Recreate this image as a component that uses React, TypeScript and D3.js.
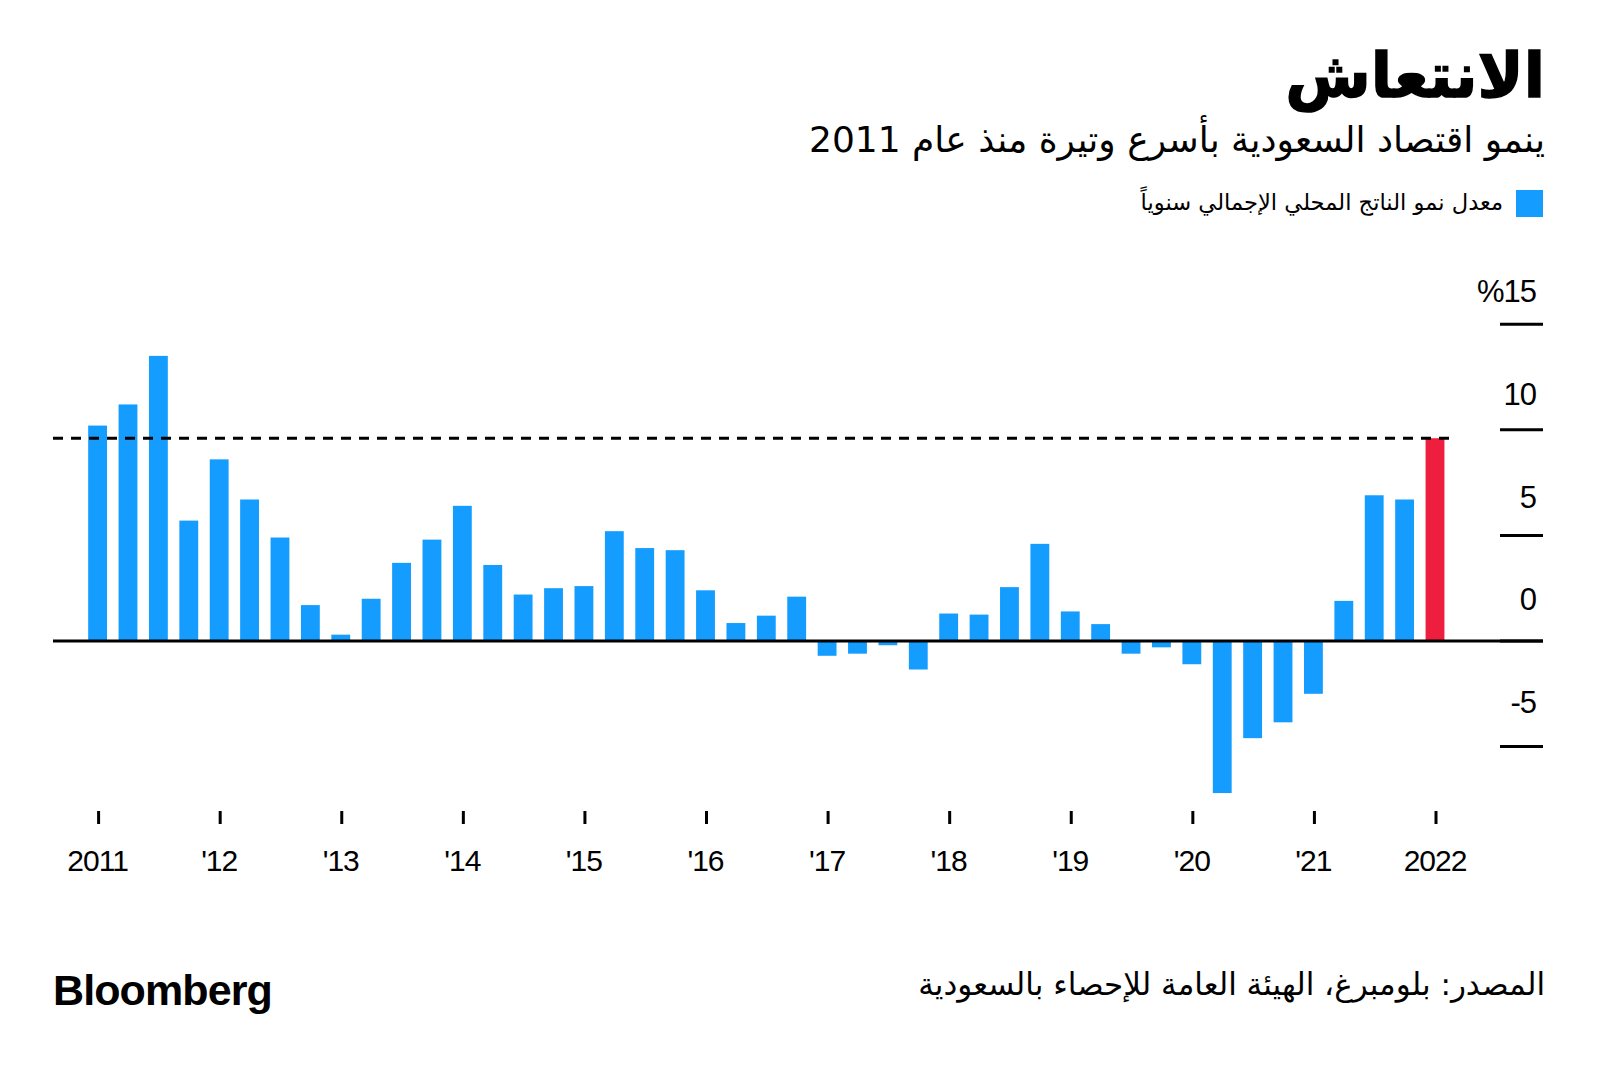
import React from "react";
import * as d3 from "d3";

const quarters = [
  "2011Q1","2011Q2","2011Q3","2011Q4",
  "2012Q1","2012Q2","2012Q3","2012Q4",
  "2013Q1","2013Q2","2013Q3","2013Q4",
  "2014Q1","2014Q2","2014Q3","2014Q4",
  "2015Q1","2015Q2","2015Q3","2015Q4",
  "2016Q1","2016Q2","2016Q3","2016Q4",
  "2017Q1","2017Q2","2017Q3","2017Q4",
  "2018Q1","2018Q2","2018Q3","2018Q4",
  "2019Q1","2019Q2","2019Q3","2019Q4",
  "2020Q1","2020Q2","2020Q3","2020Q4",
  "2021Q1","2021Q2","2021Q3","2021Q4",
  "2022Q1",
];

const gdpGrowth = [
  10.2, 11.2, 13.5, 5.7,
  8.6, 6.7, 4.9, 1.7,
  0.3, 2.0, 3.7, 4.8,
  6.4, 3.6, 2.2, 2.5,
  2.6, 5.2, 4.4, 4.3,
  2.4, 0.85, 1.2, 2.1,
  -0.7, -0.6, -0.2, -1.35,
  1.3, 1.25, 2.55, 4.6,
  1.4, 0.8, -0.6, -0.3,
  -1.1, -7.2, -4.6, -3.85,
  -2.5, 1.9, 6.9, 6.7,
  9.6,
];

const highlightQuarter = "2022Q1";
const referenceValue = 9.6;

const xTickQuarters = ["2011Q1","2012Q1","2013Q1","2014Q1","2015Q1","2016Q1","2017Q1","2018Q1","2019Q1","2020Q1","2021Q1","2022Q1"];
const xTickLabels = ["2011","'12","'13","'14","'15","'16","'17","'18","'19","'20","'21","2022"];

const yTicks = [15, 10, 5, 0, -5];
const yTickLabels = ["%15", "10", "5", "0", "-5"];

const titleText = "الانتعاش";
const subtitleText = "ينمو اقتصاد السعودية بأسرع وتيرة منذ عام 2011";
const legendText = "معدل نمو الناتج المحلي الإجمالي سنوياً";
const sourceText = "المصدر: بلومبرغ، الهيئة العامة للإحصاء بالسعودية";

const BLUE = "#149CFF";
const RED = "#EE1E3E";
const ARABIC = "'DejaVu Sans', 'Noto Sans', sans-serif";
const LATIN = "'Liberation Sans', Arial, Helvetica, sans-serif";

export default function App() {
  const W = 1600, H = 1072;
  const x = d3.scaleBand<string>().domain(quarters).range([82.4, 1450.2]).paddingInner(0.38).paddingOuter(0.19);
  const y = d3.scaleLinear().domain([-5, 15]).range([746.6, 324.2]);
  const yLabel = d3.scaleLinear().domain([-5, 15]).range([713.3, 301.7]);
  const bw = x.bandwidth();
  const y0 = y(0);

  return (
    <svg width={W} height={H} style={{ position: "absolute", left: 0, top: 0, background: "#fff" }}>
      <rect x={0} y={0} width={W} height={H} fill="#fff" />
      {/* Title */}
      <text x={1545} y={97} textAnchor="end" fontFamily={ARABIC} fontWeight={700} fontSize={62} fill="#000" stroke="#000" strokeWidth={1.5}>{titleText}</text>
      <text x={1545} y={152} textAnchor="end" fontFamily={ARABIC} fontSize={36} fill="#000">{subtitleText}</text>
      {/* Legend */}
      <rect x={1516} y={190} width={27} height={27} fill={BLUE} />
      <text x={1503} y={210} textAnchor="end" fontFamily={ARABIC} fontSize={22.6} fill="#000">{legendText}</text>

      {/* Bars */}
      {quarters.map((q, i) => {
        const v = gdpGrowth[i];
        const top = y(Math.max(0, v));
        const h = Math.abs(y(v) - y0);
        return (
          <rect key={q} x={x(q)} y={top} width={bw} height={h} fill={q === highlightQuarter ? RED : BLUE} />
        );
      })}

      {/* Zero line */}
      <line x1={53} x2={1543} y1={y0} y2={y0} stroke="#000" strokeWidth={3} />
      {/* Reference dashed line */}
      <line x1={53} x2={1452} y1={y(referenceValue)} y2={y(referenceValue)} stroke="#000" strokeWidth={3} strokeDasharray="10 8" />

      {/* Y axis */}
      {yTicks.map((t, i) => (
        <g key={t}>
          <line x1={1500} x2={1543} y1={y(t)} y2={y(t)} stroke="#000" strokeWidth={3} />
          <text x={1536} y={yLabel(t)} textAnchor="end" fontFamily={LATIN} fontSize={31} letterSpacing={-1} fill="#000">{yTickLabels[i]}</text>
        </g>
      ))}

      {/* X axis */}
      {xTickQuarters.map((q, i) => {
        const cx = (x(q) as number) + bw / 2;
        return (
          <g key={q}>
            <line x1={cx + 1} x2={cx + 1} y1={811} y2={824} stroke="#000" strokeWidth={3} />
            <text x={cx} y={871} textAnchor="middle" fontFamily={LATIN} fontSize={30} letterSpacing={-1} fill="#000">{xTickLabels[i]}</text>
          </g>
        );
      })}

      {/* Footer */}
      <text x={53} y={1005} fontFamily={LATIN} fontWeight={700} fontSize={43} letterSpacing={-0.9} fill="#000">Bloomberg</text>
      <text x={1545} y={995} textAnchor="end" fontFamily={ARABIC} fontSize={31} fill="#000">{sourceText}</text>
    </svg>
  );
}
